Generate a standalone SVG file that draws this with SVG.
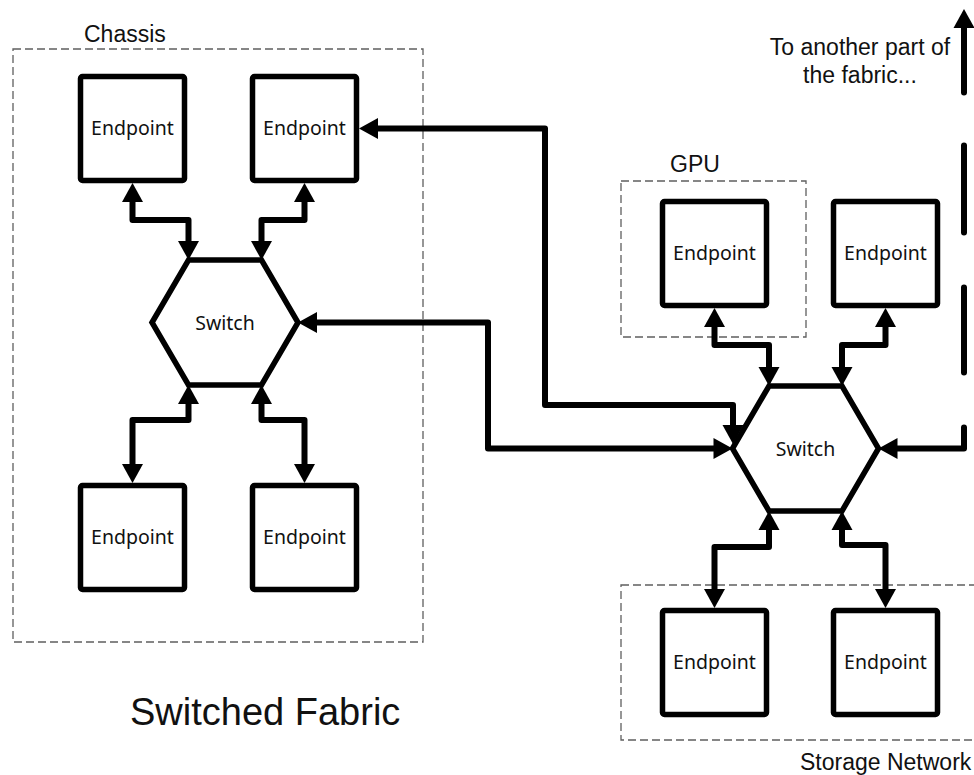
<svg xmlns="http://www.w3.org/2000/svg" width="974" height="775" viewBox="0 0 974 775">
  <style>
    .bg { fill: #ffffff; }
    .group-box { fill: none; stroke: #5f5f5f; stroke-width: 1.3; stroke-dasharray: 8 4; }
    .ep { fill: #ffffff; stroke: #000000; stroke-width: 5.5; }
    .sw { fill: #ffffff; stroke: #000000; stroke-width: 5.5; stroke-linejoin: miter; }
    .node-label { font-family: "Noto Sans", "Open Sans", sans-serif; font-size: 19.5px; fill: #111111; text-anchor: middle; }
    .label { font-family: "Liberation Sans", Arial, sans-serif; font-size: 23px; fill: #111111; }
    .title { font-family: "Liberation Sans", Arial, sans-serif; font-size: 38px; fill: #111111; }
    .link { fill: none; stroke: #000000; stroke-width: 6; stroke-linejoin: round; stroke-linecap: butt;
            marker-start: url(#arrow); marker-end: url(#arrow); }
    .link-dashed { stroke-linecap: round; stroke-dasharray: 73.5 53 87 55 85 55 1000; }
  </style>
  <defs>
    <!-- arrowhead: tip sits 10px beyond the path end so the thick line never blunts it -->
    <marker id="arrow" markerUnits="userSpaceOnUse" viewBox="0 0 19 21" markerWidth="19" markerHeight="21"
            refX="9" refY="10.5" orient="auto-start-reverse" overflow="visible">
      <path d="M0,0 L19,10.5 L0,21 Z" fill="#000000"/>
    </marker>
  </defs>

  <rect class="bg" x="0" y="0" width="974" height="775"/>

  <!-- grouping boxes -->
  <g id="chassis">
    <rect class="group-box" x="13" y="49" width="410" height="593"/>
    <text class="label" x="84" y="42">Chassis</text>
  </g>
  <g id="gpu">
    <rect class="group-box" x="621" y="181" width="185" height="156"/>
    <text class="label" x="670" y="172">GPU</text>
  </g>
  <g id="storage-network">
    <rect class="group-box" x="621" y="585" width="362" height="155"/>
    <text class="label" x="800" y="770">Storage Network</text>
  </g>

  <!-- connectors -->
  <g id="connectors">
    <path class="link" d="M132.5,193 V220 H188.5 V250"/>
    <path class="link" d="M304.5,193 V220 H261.5 V250"/>
    <path class="link" d="M188.5,395 V420 H132.5 V473"/>
    <path class="link" d="M261.5,395 V420 H304.5 V473"/>
    <path class="link" d="M308,322.5 H488 V448.5 H722.5"/>
    <path class="link" d="M369,128.5 H545 V405 H733 V434"/>
    <path class="link" d="M714.5,318 V345 H769 V376"/>
    <path class="link" d="M885.5,318 V345 H842 V376"/>
    <path class="link" d="M769,521 V547 H714.5 V598"/>
    <path class="link" d="M842,521 V545 H885.5 V598"/>
    <path class="link link-dashed" d="M964,19 V448.5 H888.5"/>
  </g>

  <!-- switches -->
  <g id="switch-1">
    <polygon class="sw" points="152,322.5 188.5,260 261.5,260 298,322.5 261.5,385 188.5,385"/>
    <text class="node-label" x="225" y="329.5">Switch</text>
  </g>
  <g id="switch-2">
    <polygon class="sw" points="732.5,448.5 769,386 842,386 878.5,448.5 842,511 769,511"/>
    <text class="node-label" x="805.5" y="455.5">Switch</text>
  </g>

  <!-- endpoints -->
  <g id="endpoint-1">
    <rect class="ep" x="80.5" y="76.5" width="104" height="104" rx="2"/>
    <text class="node-label" x="132.5" y="135">Endpoint</text>
  </g>
  <g id="endpoint-2">
    <rect class="ep" x="252.5" y="76.5" width="104" height="104" rx="2"/>
    <text class="node-label" x="304.5" y="135">Endpoint</text>
  </g>
  <g id="endpoint-3">
    <rect class="ep" x="80.5" y="485.5" width="104" height="104" rx="2"/>
    <text class="node-label" x="132.5" y="544">Endpoint</text>
  </g>
  <g id="endpoint-4">
    <rect class="ep" x="252.5" y="485.5" width="104" height="104" rx="2"/>
    <text class="node-label" x="304.5" y="544">Endpoint</text>
  </g>
  <g id="endpoint-5">
    <rect class="ep" x="662.5" y="201.5" width="104" height="104" rx="2"/>
    <text class="node-label" x="714.5" y="260">Endpoint</text>
  </g>
  <g id="endpoint-6">
    <rect class="ep" x="833.5" y="201.5" width="104" height="104" rx="2"/>
    <text class="node-label" x="885.5" y="260">Endpoint</text>
  </g>
  <g id="endpoint-7">
    <rect class="ep" x="662.5" y="610.5" width="104" height="104" rx="2"/>
    <text class="node-label" x="714.5" y="669">Endpoint</text>
  </g>
  <g id="endpoint-8">
    <rect class="ep" x="833.5" y="610.5" width="104" height="104" rx="2"/>
    <text class="node-label" x="885.5" y="669">Endpoint</text>
  </g>

  <!-- free-standing labels -->
  <g id="fabric-note">
    <text class="label" x="860" y="55" text-anchor="middle">To another part of</text>
    <text class="label" x="860" y="83" text-anchor="middle">the fabric...</text>
  </g>
  <text class="title" x="130" y="725">Switched Fabric</text>
</svg>
